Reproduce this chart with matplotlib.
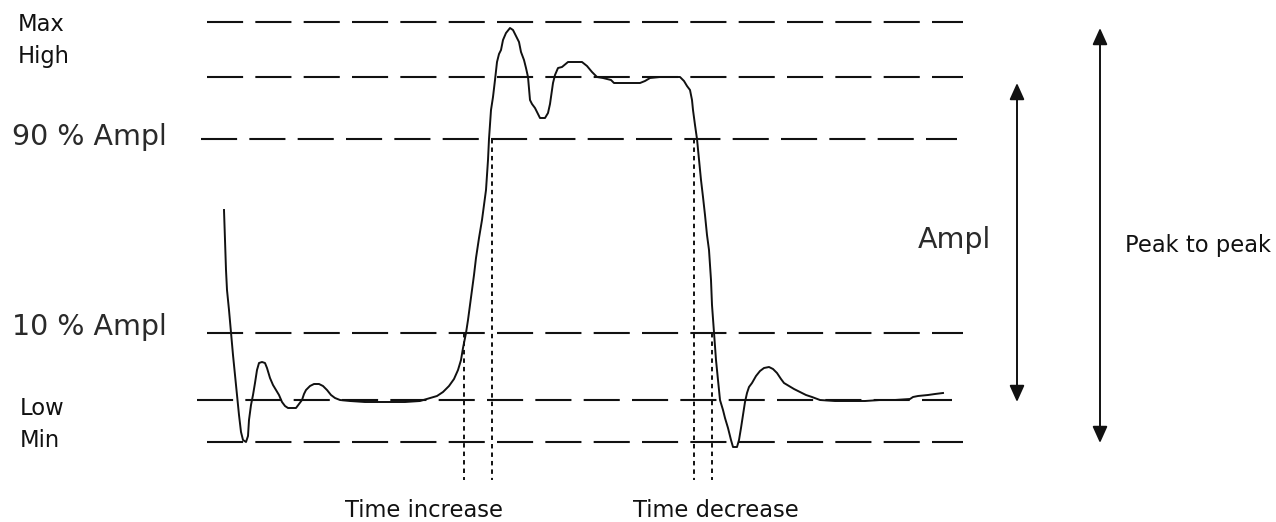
import matplotlib.pyplot as plt

plt.rcParams['lines.scale_dashes'] = False
plt.rcParams['font.family'] = ['DejaVu Sans']

# reference levels of the scope picture (screen units, y grows downwards)
level_names = ['Max', 'High', '90 %', '10 %', 'Low', 'Min']
level_values = [22, 77, 139, 333, 400, 442]
level_starts = [207, 207, 201, 207, 197, 207]
level_ends = [963, 963, 957, 963, 952, 963]

# the pulse trace
trace_t = [224, 225, 226, 227, 229, 231, 233, 235, 237, 239, 241, 243, 246, 248, 249,
           251, 253, 255, 257, 259, 262, 265, 267, 270, 273, 276, 279, 282, 285, 288,
           296, 299, 302, 304, 306, 310, 314, 319, 323, 327, 331, 335, 340, 350, 365,
           385, 405, 420, 430, 437, 443, 449, 454, 458, 461, 463, 466, 468, 470, 472,
           474, 476, 479, 482, 484, 486, 487, 488, 489, 490, 491, 493, 495, 497, 499,
           501, 503, 506, 510, 513, 516, 519, 521, 524, 526, 528, 529, 530, 532, 535,
           537, 540, 545, 548, 550, 552, 553, 555, 558, 562, 568, 575, 582, 587, 592,
           597, 603, 607, 611, 614, 620, 630, 640, 645, 650, 660, 670, 680, 684, 687,
           690, 692, 693, 695, 697, 699, 701, 703, 705, 707, 709, 711, 712, 714, 716,
           718, 720, 723, 725, 728, 731, 733, 737, 739, 741, 743, 745, 747, 749, 752,
           756, 760, 764, 769, 773, 777, 781, 784, 789, 794, 800, 806, 812, 820, 835,
           850, 865, 880, 895, 910, 913, 918, 928, 935, 943]
trace_v = [210, 240, 270, 290, 310, 333, 355, 375, 395, 415, 432, 440, 442, 436, 420,
           405, 395, 383, 370, 363, 362, 363, 368, 378, 385, 390, 395, 402, 406, 408,
           408, 404, 400, 394, 390, 386, 384, 384, 386, 390, 395, 398, 400, 401, 402,
           402, 402, 401, 398, 396, 392, 386, 379, 370, 360, 348, 333, 320, 305, 290,
           275, 258, 238, 220, 205, 190, 175, 160, 139, 125, 110, 97, 80, 62, 54,
           50, 40, 33, 28, 30, 36, 42, 52, 60, 68, 77, 88, 100, 104, 108,
           112, 118, 118, 113, 104, 90, 83, 75, 68, 67, 62, 62, 62, 66, 72,
           77, 78, 79, 80, 83, 83, 83, 83, 81, 78, 77, 77, 77, 81, 86,
           90, 100, 110, 125, 139, 160, 180, 197, 215, 235, 250, 280, 305, 333, 360,
           380, 400, 410, 418, 428, 440, 447, 447, 440, 428, 415, 402, 393, 387, 383,
           376, 371, 368, 367, 369, 373, 379, 383, 386, 389, 392, 395, 397, 400, 401,
           401, 401, 400, 400, 399, 397, 396, 395, 394, 393]

# rise / fall time markers: time and the level each one starts at
marker_times = [464, 492, 694, 712]
marker_tops = [333, 139, 139, 333]
marker_bottom = 480

fig = plt.figure(figsize=(12.76, 5.22), dpi=100)
ax = fig.add_axes([0, 0, 1, 1])
ax.set_xlim(0, 1276)
ax.set_ylim(522, 0)
ax.axis('off')

# dashed reference levels
for lv, x0, x1 in zip(level_values, level_starts, level_ends):
    ax.plot([x0, x1], [lv, lv], color='#111111', lw=1.5,
            linestyle=(0, (26, 8.8)), solid_capstyle='butt', dash_capstyle='butt')

# dotted time markers
for t, top in zip(marker_times, marker_tops):
    ax.plot([t, t], [top, marker_bottom], color='#111111', lw=1.4,
            linestyle=(0, (3.2, 2.9)), dash_capstyle='butt')

# the pulse
ax.plot(trace_t, trace_v, color='#111111', lw=1.4)

# amplitude arrows
arrow_style = '<|-|>,head_length=1.0,head_width=0.45'
ax.annotate('', xy=(1017, level_values[1] + 6), xytext=(1017, level_values[4] + 2),
            arrowprops=dict(arrowstyle=arrow_style, color='#111111', lw=1.4,
                            mutation_scale=10, shrinkA=0, shrinkB=0))
ax.annotate('', xy=(1100, level_values[0] + 6), xytext=(1100, level_values[5] + 1),
            arrowprops=dict(arrowstyle=arrow_style, color='#111111', lw=1.4,
                            mutation_scale=10, shrinkA=0, shrinkB=0))

# labels
small = dict(fontsize=16.3, color='#111111', va='baseline', ha='left')
big = dict(fontsize=20.5, color='#2a2a2a', va='baseline', ha='left')
ax.text(18, 31, 'Max', **small)
ax.text(18, 63, 'High', **small)
ax.text(20, 415, 'Low', **small)
ax.text(20, 447, 'Min', **small)
ax.text(12, 145, '90 % Ampl', **big)
ax.text(12, 335, '10 % Ampl', **big)
ax.text(918, 248, 'Ampl', **big)
ax.text(1125, 252, 'Peak to peak', **small)
ax.text(345, 517, 'Time increase', **small)
ax.text(633, 517, 'Time decrease', **small)

fig.savefig('out.png', dpi=100)
